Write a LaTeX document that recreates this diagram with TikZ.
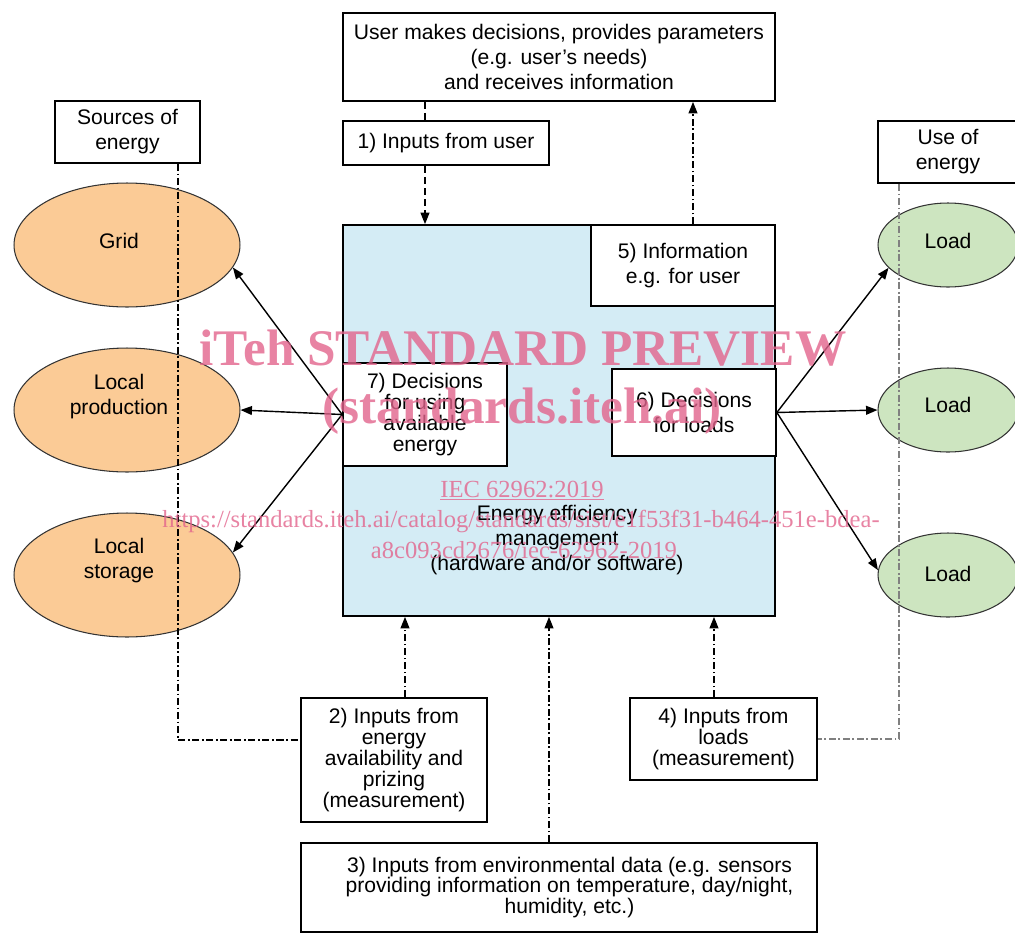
\documentclass[tikz,border=0pt]{standalone}
\usepackage{fontspec}
\setmainfont{Liberation Sans}
\newfontfamily\wmfont{Liberation Serif}
\usetikzlibrary{arrows.meta,shapes.geometric}
\definecolor{srcorange}{RGB}{251,203,150}
\definecolor{loadgreen}{RGB}{205,229,192}
\definecolor{emsblue}{RGB}{212,236,245}
\definecolor{wmpink}{RGB}{226,100,140}
\tikzset{
  box/.style={draw, line width=1pt, fill=white, align=center, inner sep=0pt},
  tight/.style={font=\fontsize{12}{11.9}\selectfont},
  srcell/.style={ellipse, draw=black!80, line width=0.6pt, fill=srcorange,
    inner sep=0pt, minimum width=4.52cm, minimum height=2.48cm},
  loadell/.style={ellipse, draw=black!80, line width=0.6pt, fill=loadgreen,
    inner sep=0pt, minimum width=2.8cm, minimum height=1.68cm},
  flow/.style={line width=0.8pt},
  dashln/.style={line width=0.8pt, dash pattern=on 4pt off 2.3pt},
  dashdot/.style={line width=0.8pt, dash pattern=on 4pt off 1.5pt on 1pt off 1.5pt},
  wm/.style={text=wmpink, text opacity=0.8, anchor=base, inner sep=0pt}
}
\begin{document}
\begin{tikzpicture}[x=0.02cm, y=-0.02cm, font=\fontsize{12}{14.2}\selectfont,
    >={Triangle[length=6.5pt,width=5pt]}]
  \clip (0,0) rectangle (1015,944);
  % sources and loads
  \draw
    (127,245) node[srcell] (grid){}
    (127,410) node[srcell] (prod){}
    (127,575) node[srcell] (stor){};
  \draw
    (119,241) node[align=center] (gridtxt){Grid}
    (119,397) node[align=center] (prodtxt){Local\\production}
    (119,561) node[align=center] (stortxt){Local\\storage};
  \draw
    (948,245) node[loadell] (load1){}
    (948,410) node[loadell] (load2){}
    (948,575) node[loadell] (load3){};
  \draw
    (948,241) node (load1txt){Load}
    (948,405) node (load2txt){Load}
    (948,574) node (load3txt){Load};
  % management box
  \node[box, fill=emsblue, minimum width=8.64cm, minimum height=7.82cm] (ems) at (559,420.5) {};
  \node[align=center] (emstxt) at (557,540) {Energy efficiency\\management\\(hardware and/or software)};
  \node[box, minimum width=3.68cm, minimum height=1.62cm] (info) at (683,265.5) {5) Information\\e.g. for user};
  \node[box, tight, minimum width=3.28cm, minimum height=2.06cm] (dec7) at (425,414.5) {7) Decisions\\for using\\available\\energy};
  \node[box, minimum width=3.28cm, minimum height=1.74cm] (dec6) at (694,412.5) {6) Decisions\\for loads};
  % other boxes
  \node[box, minimum width=8.64cm, minimum height=1.76cm] (user) at (559,57)
    {User makes decisions, provides parameters\\(e.g. user’s needs)\\and receives information};
  \node[box, minimum width=4.12cm, minimum height=0.88cm] (inuser) at (446,143) {1) Inputs from user};
  \node[box, minimum width=2.9cm, minimum height=1.24cm] (srcs) at (127.5,132) {Sources of\\energy};
  \node[box, minimum width=2.8cm, minimum height=1.24cm] (usebox) at (948,152) {Use of\\energy};
  \node[box, tight, minimum width=3.72cm, minimum height=2.48cm] (in2) at (394,760)
    {2) Inputs from\\energy\\availability and\\prizing\\(measurement)};
  \node[box, tight, minimum width=10.32cm, minimum height=1.78cm] (in3) at (559,887.5)
    {\hspace*{12pt}3) Inputs from environmental data (e.g. sensors\\\hspace*{12pt}providing information on temperature, day/night,\\\hspace*{12pt}humidity, etc.)};
  \node[box, tight, minimum width=3.74cm, minimum height=1.64cm] (in4) at (723.5,739)
    {4) Inputs from\\loads\\(measurement)};
  % decisions
  \begin{scope}[flow, ->]
    \draw (dec7.west) -- (grid.-12);
    \draw (dec7.west) -- (prod.east);
    \draw (dec7.west) -- (stor.12);
    \draw (dec6.east) -- (load1.201);
    \draw (dec6.east) -- (load2.west);
    \draw (dec6.east) -- (load3.176);
  \end{scope}
  % information flows
  \draw[dashln] (425,0 |- user.south) -- (425,0 |- inuser.north);
  \draw[dashln, ->] (425,0 |- inuser.south) -- (425,0 |- ems.north);
  \draw[dashdot, ->] (693,0 |- info.north) -- (693,0 |- user.south);
  \draw[dashdot, ->] (405,0 |- in2.north) -- (405,0 |- ems.south);
  \draw[dashdot, ->] (549,0 |- in3.north) -- (549,0 |- ems.south);
  \draw[dashdot, ->] (714,0 |- in4.north) -- (714,0 |- ems.south);
  \draw[dashdot] (178,0 |- srcs.south) |- (in2.168);
  \draw[dashdot, gray] (899,0 |- usebox.south) |- (in4.east);
  % watermark
  \node[wm, font=\wmfont\bfseries\fontsize{29.2}{29}\selectfont] (wm1) at (523,365) {iTeh STANDARD PREVIEW};
  \node[wm, font=\wmfont\bfseries\fontsize{29.2}{29}\selectfont] (wm2) at (522,423) {(standards.iteh.ai)};
  \node[wm, font=\wmfont\fontsize{14}{14}\selectfont] (wm3) at (522,497) {\underline{IEC 62962:2019}};
  \node[wm, font=\wmfont\fontsize{14}{14}\selectfont] (wm4) at (521,527)
    {https://standards.iteh.ai/catalog/standards/sist/e1f53f31-b464-451e-bdea-};
  \node[wm, font=\wmfont\fontsize{14}{14}\selectfont] (wm5) at (524,558) {a8c093cd2676/iec-62962-2019};
\end{tikzpicture}
\end{document}
